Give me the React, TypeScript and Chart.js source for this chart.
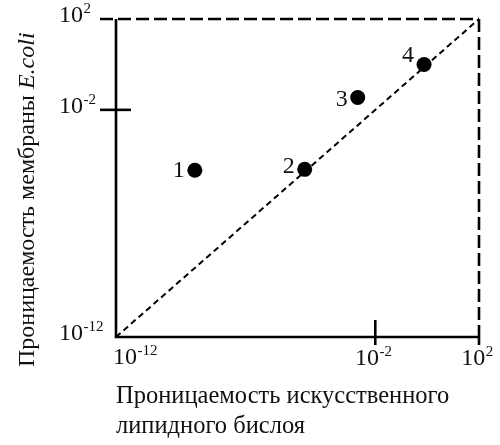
import React, { useEffect, useRef } from 'react';
import { Chart, registerables } from 'chart.js';

Chart.register(...registerables);

// ---- data ----
const pointLabels = ['1', '2', '3', '4'];
const bilayerPermeability = [1.1e-9, 1.9e-5, 2.1e-3, 7.6e-1];
const membranePermeability = [2.2e-5, 2.4e-5, 3.5e-2, 1.0];
const axisMin = 1e-12;
const axisMax = 1e2;
const xTickExponents = [-12, -2, 2];
const yTickExponents = [-12, -2, 2];
const xTitleLines = ['Проницаемость искусственного', 'липидного бислоя'];
const yTitleMain = 'Проницаемость мембраны ';
const yTitleItalic = 'E.coli';

// ---- styles ----
const SERIF = "'Liberation Serif', 'Times New Roman', serif";
const labelBaselineOffsets = [7, 4, 9, -2];

function drawPow(ctx: CanvasRenderingContext2D, exp: number, x: number, baseline: number, align: 'left' | 'center') {
  const base = '10';
  const sup = String(exp);
  ctx.font = `24px ${SERIF}`;
  const wb = ctx.measureText(base).width;
  ctx.font = `15px ${SERIF}`;
  const ws = ctx.measureText(sup).width;
  const total = wb + ws;
  const sx = align === 'left' ? x : x - total / 2;
  ctx.textAlign = 'left';
  ctx.textBaseline = 'alphabetic';
  ctx.font = `24px ${SERIF}`;
  ctx.fillText(base, sx, baseline);
  ctx.font = `15px ${SERIF}`;
  ctx.fillText(sup, sx + wb + 0.5, baseline - 9);
}

const framePlugin = {
  id: 'frame',
  beforeDatasetsDraw(chart: any) {
    const ctx: CanvasRenderingContext2D = chart.ctx;
    const xs = chart.scales.x;
    const ys = chart.scales.y;
    const L = xs.getPixelForValue(axisMin);
    const R = xs.getPixelForValue(axisMax);
    const B = ys.getPixelForValue(axisMin);
    const T = ys.getPixelForValue(axisMax);
    ctx.save();
    ctx.strokeStyle = '#000';
    ctx.lineCap = 'butt';
    ctx.lineWidth = 2.6;
    ctx.setLineDash([]);
    ctx.beginPath();
    ctx.moveTo(L, T);
    ctx.lineTo(L, B);
    ctx.lineTo(R, B);
    ctx.stroke();
    ctx.beginPath();
    ctx.moveTo(R, B);
    ctx.lineTo(R, B + 8);
    ctx.stroke();
    ctx.setLineDash([13, 5]);
    ctx.beginPath();
    ctx.moveTo(L - 16, T);
    ctx.lineTo(R, T);
    ctx.stroke();
    ctx.beginPath();
    ctx.moveTo(R, T);
    ctx.lineTo(R, B);
    ctx.stroke();
    ctx.setLineDash([]);
    const xm = xs.getPixelForValue(Math.pow(10, xTickExponents[1]));
    ctx.beginPath();
    ctx.moveTo(xm, B - 17);
    ctx.lineTo(xm, B + 8);
    ctx.stroke();
    const ym = ys.getPixelForValue(Math.pow(10, yTickExponents[1]));
    ctx.beginPath();
    ctx.moveTo(L - 16, ym);
    ctx.lineTo(L + 15, ym);
    ctx.stroke();
    ctx.restore();
  },
  afterDraw(chart: any) {
    const ctx: CanvasRenderingContext2D = chart.ctx;
    const xs = chart.scales.x;
    const ys = chart.scales.y;
    const L = xs.getPixelForValue(axisMin);
    const B = ys.getPixelForValue(axisMin);
    ctx.save();
    ctx.fillStyle = '#111';
    xTickExponents.forEach((e, i) => {
      const px = xs.getPixelForValue(Math.pow(10, e));
      if (i === 0) drawPow(ctx, e, px - 3, B + 27, 'left');
      else drawPow(ctx, e, px - 2, B + 28, 'center');
    });
    yTickExponents.forEach((e) => {
      const py = ys.getPixelForValue(Math.pow(10, e));
      drawPow(ctx, e, L - 57, py + 3, 'left');
    });
    const meta = chart.getDatasetMeta(0);
    ctx.font = `24px ${SERIF}`;
    ctx.textAlign = 'right';
    ctx.textBaseline = 'alphabetic';
    meta.data.forEach((el: any, i: number) => {
      ctx.fillText(pointLabels[i], el.x - 10, el.y + labelBaselineOffsets[i]);
    });
    ctx.textAlign = 'left';
    ctx.font = `24.5px ${SERIF}`;
    ctx.fillText(xTitleLines[0], L, B + 66);
    ctx.fillText(xTitleLines[1], L, B + 96);
    ctx.translate(34, 367);
    ctx.rotate(-Math.PI / 2);
    ctx.font = `24px ${SERIF}`;
    ctx.fillText(yTitleMain, 0, 0);
    const w = ctx.measureText(yTitleMain).width;
    ctx.font = `italic 24px ${SERIF}`;
    ctx.fillText(yTitleItalic, w, 0);
    ctx.restore();
  },
};

export default function App() {
  const ref = useRef<HTMLCanvasElement | null>(null);
  useEffect(() => {
    document.body.style.margin = '0';
    if (!ref.current) return;
    const points = bilayerPermeability.map((x, i) => ({ x, y: membranePermeability[i] }));
    const chart = new Chart(ref.current, {
      type: 'scatter',
      data: {
        datasets: [
          {
            data: points,
            pointRadius: 7.5,
            pointBackgroundColor: '#000',
            pointBorderColor: '#000',
            borderWidth: 0,
            showLine: false,
          },
          {
            data: [
              { x: axisMin, y: axisMin },
              { x: axisMax, y: axisMax },
            ],
            showLine: true,
            borderColor: '#000',
            borderWidth: 2,
            borderDash: [6, 4],
            pointRadius: 0,
          },
        ],
      },
      options: {
        animation: false,
        responsive: false,
        layout: { padding: { left: 116, top: 19, right: 21, bottom: 108 } },
        scales: {
          x: { type: 'logarithmic', min: axisMin, max: axisMax, display: false },
          y: { type: 'logarithmic', min: axisMin, max: axisMax, display: false },
        },
        plugins: { legend: { display: false }, tooltip: { enabled: false } },
      },
      plugins: [framePlugin],
    } as any);
    return () => chart.destroy();
  }, []);
  return (
    <div style={{ width: 500, height: 445, background: '#fff' }}>
      <canvas ref={ref} width={500} height={445} style={{ display: 'block', width: 500, height: 445 }} />
    </div>
  );
}
